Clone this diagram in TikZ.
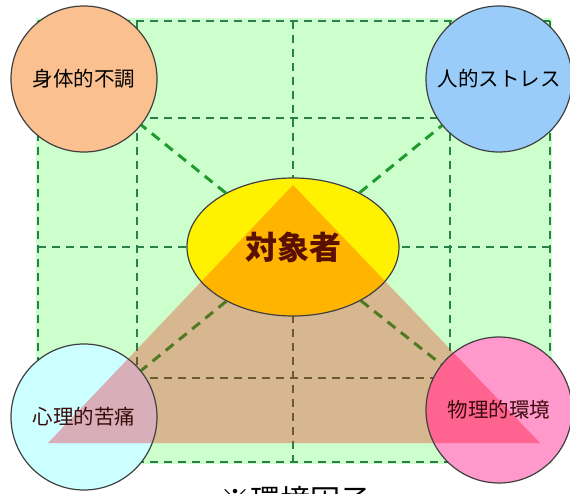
\documentclass[tikz,border=0pt]{standalone}
\usepackage{fontspec}
\usepackage{xcolor}
\usetikzlibrary{shapes.geometric}
\newfontfamily\jpfont{Noto Sans CJK JP}

\definecolor{bggreen}{HTML}{CCFFCC}
\definecolor{gridgreen}{HTML}{2A7F4A}
\definecolor{gridbrown}{HTML}{6E5A30}
\definecolor{diaggreen}{HTML}{1E9A2E}
\definecolor{diagolive}{HTML}{4F7A22}
\definecolor{tricol}{HTML}{D6B78F}
\definecolor{orangefill}{HTML}{FFB400}
\definecolor{peach}{HTML}{FAC090}
\definecolor{skyblue}{HTML}{99CCF8}
\definecolor{paleblue}{HTML}{CCFFFF}
\definecolor{pinkish}{HTML}{FF99CC}
\definecolor{mauve}{HTML}{D8AFB8}
\definecolor{hotpink}{HTML}{FF6491}
\definecolor{maroon}{HTML}{5A1000}
\definecolor{darktext}{HTML}{3A0A0A}

\begin{document}
\begin{tikzpicture}[x=1pt, y=-1pt,
  gridline/.style={gridgreen, line width=2pt, dash pattern=on 8pt off 6pt},
  diagline/.style={line width=3pt, dash pattern=on 10pt off 7pt},
  factor/.style={circle, draw=black!75, line width=1.2pt, minimum size=146pt, inner sep=0pt,
    font=\jpfont\fontsize{20.5}{25}\selectfont},
  tricover/.style={path picture={\fill[#1] (apex) -- (baseL) -- (baseR) -- cycle;}}]
\useasboundingbox (0,0) rectangle (570,494);
\clip (0,0) rectangle (570,494);

% Triangle corners
\coordinate (apex) at (293,185);
\coordinate (baseL) at (48,443);
\coordinate (baseR) at (540,443);

% Background
\fill[bggreen] (36,18) rectangle (552,464);
\fill[tricol] (apex) -- (baseL) -- (baseR) -- cycle;

% Grid
\foreach \gx in {38,137,293,450,550}
  \draw[gridline] (\gx,21) -- (\gx,462);
\foreach \gy in {21,118,247,378,462}
  \draw[gridline] (38,\gy) -- (550,\gy);
\begin{scope}
  \clip (apex) -- (baseL) -- (baseR) -- cycle;
  \foreach \gx in {38,137,293,450,550}
    \draw[gridline, gridbrown] (\gx,21) -- (\gx,462);
  \foreach \gy in {21,118,247,378,462}
    \draw[gridline, gridbrown] (38,\gy) -- (550,\gy);
\end{scope}

% Subject
\node[ellipse, draw=black!75, line width=1.2pt, fill=yellow, tricover=orangefill,
  minimum width=212pt, minimum height=138pt, inner sep=0pt, text=maroon,
  font=\jpfont\bfseries\fontsize{32}{38}\selectfont] (subject) at (293,247) {対象者};

% Factors
\node[factor, fill=peach] (body) at (84,79) {身体的不調};
\node[factor, fill=skyblue] (stress) at (499,79) {人的ストレス};
\node[factor, fill=paleblue, tricover=mauve, text=darktext] (mind) at (84,417) {心理的苦痛};
\node[factor, fill=pinkish, tricover=hotpink, text=darktext] (place) at (499,410) {物理的環境};

% Links
\draw[diagline, diaggreen] (subject) -- (body);
\draw[diagline, diaggreen] (subject) -- (stress);
\draw[diagline, diagolive] (subject) -- (mind);
\draw[diagline, diagolive] (subject) -- (place);

% Note
\node[font=\jpfont\fontsize{30}{34}\selectfont] (note) at (295,500) {※環境因子};
\end{tikzpicture}
\end{document}
